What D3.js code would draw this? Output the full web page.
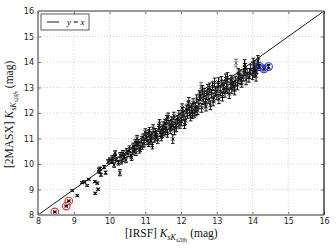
<!DOCTYPE html>
<html>
<head>
<meta charset="utf-8">
<script src="https://cdn.jsdelivr.net/npm/d3@7"></script>
<style>
  body { margin: 0; background: #fff; }
  svg { display: block; }
</style>
</head>
<body>
<svg width="336" height="252"></svg>
<script>
// [IRSF x, 2MASX y, y error]
var points = [
  [8.96, 8.96, 0.03], [9.10, 8.76, 0.03], [9.23, 9.27, 0.03], [9.29, 9.29, 0.03], [9.38, 9.15, 0.03],
  [9.42, 9.40, 0.03], [9.30, 9.30, 0.03], [9.59, 9.31, 0.04], [9.66, 9.25, 0.04], [9.60, 8.85, 0.04],
  [9.68, 9.01, 0.04], [9.70, 9.78, 0.06], [9.74, 9.82, 0.06], [9.76, 9.58, 0.06], [9.72, 9.70, 0.06],
  [9.89, 9.66, 0.06], [9.85, 9.88, 0.06], [9.96, 10.09, 0.08], [10.01, 10.16, 0.08], [10.07, 10.10, 0.08],
  [10.08, 10.24, 0.09], [10.16, 10.43, 0.09], [10.13, 9.96, 0.09], [10.15, 10.30, 0.09], [10.20, 10.18, 0.09],
  [10.25, 10.05, 0.09], [10.29, 9.66, 0.12], [10.30, 10.35, 0.10], [10.38, 10.20, 0.10], [10.38, 10.43, 0.10],
  [10.42, 10.30, 0.10], [10.46, 10.15, 0.10], [10.52, 10.40, 0.11], [10.56, 10.60, 0.11], [10.60, 10.35, 0.11],
  [10.66, 10.50, 0.12], [10.66, 10.70, 0.12], [10.70, 10.58, 0.12], [10.74, 10.45, 0.12], [10.77, 10.72, 0.12],
  [10.77, 11.00, 0.12], [10.82, 10.85, 0.12], [10.86, 10.62, 0.12], [10.90, 10.95, 0.12], [10.94, 11.05, 0.13],
  [10.97, 10.80, 0.13], [11.02, 11.10, 0.13], [11.05, 10.90, 0.13], [11.08, 11.20, 0.13], [11.10, 10.82, 0.13],
  [11.14, 11.00, 0.13], [11.18, 11.12, 0.13], [11.20, 10.72, 0.13], [11.22, 11.40, 0.14], [11.25, 11.00, 0.14],
  [11.28, 11.25, 0.14], [11.32, 11.15, 0.14], [11.35, 10.95, 0.14], [11.38, 11.42, 0.14], [11.42, 11.22, 0.14],
  [11.45, 11.05, 0.14], [11.48, 11.35, 0.14], [11.50, 11.50, 0.15], [11.52, 11.25, 0.15], [11.55, 11.60, 0.15],
  [11.58, 11.40, 0.15], [11.62, 11.20, 0.15], [11.64, 11.85, 0.15], [11.67, 11.55, 0.15], [11.70, 11.35, 0.15],
  [11.77, 10.98, 0.17], [11.74, 11.70, 0.15], [11.78, 11.50, 0.15], [11.80, 11.88, 0.15], [11.84, 11.60, 0.15],
  [11.87, 11.42, 0.15], [11.90, 11.75, 0.15], [11.94, 11.95, 0.15], [11.97, 11.55, 0.15], [12.00, 11.80, 0.16],
  [12.02, 11.66, 0.16], [12.05, 12.05, 0.16], [12.08, 11.90, 0.16], [12.12, 11.70, 0.16], [12.15, 12.15, 0.16],
  [12.18, 11.95, 0.16], [12.20, 12.30, 0.16], [12.24, 12.05, 0.16], [12.27, 11.85, 0.16], [12.30, 12.20, 0.16],
  [12.34, 12.40, 0.16], [12.37, 12.00, 0.16], [12.40, 12.25, 0.16], [12.44, 12.55, 0.16], [12.47, 12.10, 0.16],
  [12.50, 12.35, 0.17], [12.54, 12.65, 0.17], [12.56, 13.03, 0.17], [12.58, 12.20, 0.17], [12.62, 12.50, 0.17],
  [12.65, 12.80, 0.17], [12.68, 12.40, 0.17], [12.72, 12.70, 0.17], [12.75, 12.95, 0.17], [12.78, 12.55, 0.17],
  [12.82, 12.30, 0.17], [12.85, 12.75, 0.17], [12.88, 13.05, 0.17], [12.92, 12.60, 0.17], [12.94, 13.20, 0.17],
  [12.96, 12.85, 0.17], [13.00, 12.70, 0.18], [13.03, 13.00, 0.18], [13.06, 12.55, 0.18], [13.10, 12.85, 0.18],
  [13.13, 13.25, 0.18], [13.16, 12.65, 0.18], [13.20, 13.10, 0.18], [13.23, 12.80, 0.18], [13.27, 13.00, 0.18],
  [13.30, 13.40, 0.18], [13.31, 12.95, 0.18], [13.35, 12.75, 0.18], [13.38, 13.15, 0.18], [13.42, 12.95, 0.18],
  [13.45, 13.20, 0.18], [13.48, 13.05, 0.18], [13.52, 13.25, 0.19], [13.54, 13.96, 0.15], [13.58, 13.10, 0.19],
  [13.62, 13.35, 0.19], [13.65, 13.50, 0.19], [13.70, 13.20, 0.19], [13.74, 13.45, 0.19], [13.78, 13.65, 0.19],
  [13.78, 13.90, 0.19], [13.82, 13.30, 0.19], [13.85, 13.55, 0.19], [13.90, 13.40, 0.19], [13.95, 13.70, 0.19],
  [14.00, 13.50, 0.19], [14.04, 13.60, 0.20], [14.06, 13.85, 0.20], [14.10, 13.45, 0.20], [14.12, 13.75, 0.20],
  [14.15, 14.05, 0.20], [14.17, 13.95, 0.20],
  // extra points filling the dense band
  [10.33, 10.10, 0.10], [10.48, 10.50, 0.11], [10.62, 10.25, 0.11], [10.72, 10.85, 0.12], [10.84, 10.55, 0.12],
  [10.92, 10.70, 0.12], [11.00, 11.25, 0.13], [11.12, 11.30, 0.13], [11.16, 10.90, 0.13], [11.30, 11.05, 0.14],
  [11.40, 11.60, 0.14], [11.47, 11.18, 0.14], [11.57, 11.30, 0.15], [11.60, 11.75, 0.15], [11.72, 11.45, 0.15],
  [11.82, 11.30, 0.15], [11.92, 11.60, 0.15], [12.03, 12.20, 0.16], [12.10, 11.55, 0.16], [12.22, 12.45, 0.16],
  [12.32, 11.95, 0.16], [12.42, 12.05, 0.16], [12.52, 12.70, 0.17], [12.60, 12.90, 0.17], [12.70, 12.25, 0.17],
  [12.80, 13.00, 0.17], [12.90, 12.45, 0.17], [13.05, 13.20, 0.18], [13.18, 12.95, 0.18], [13.25, 13.35, 0.18],
  [13.40, 13.30, 0.18], [13.50, 12.90, 0.19], [13.60, 13.55, 0.19], [13.68, 13.30, 0.19], [13.80, 13.75, 0.19],
  [13.92, 13.55, 0.19], [14.02, 13.95, 0.20], [14.08, 13.65, 0.20]
];

var redPoints = [[8.47, 8.12, 0.03], [8.79, 8.35, 0.03], [8.86, 8.55, 0.03]];
var bluePoints = [[14.20, 13.82, 0.08], [14.32, 13.73, 0.08], [14.45, 13.82, 0.08]];

var ticks = [8, 9, 10, 11, 12, 13, 14, 15, 16];

var svg = d3.select("svg"),
    margin = {top: 11, right: 12, bottom: 37, left: 38},
    width = +svg.attr("width") - margin.left - margin.right,
    height = +svg.attr("height") - margin.top - margin.bottom;

var x = d3.scaleLinear().domain([8, 16]).range([0, width]);
var y = d3.scaleLinear().domain([8, 16]).range([height, 0]);

var g = svg.append("g").attr("transform", "translate(" + margin.left + "," + margin.top + ")");

// dotted grid
g.append("g").selectAll("line").data(ticks.slice(1, -1)).enter().append("line")
    .attr("x1", d => x(d)).attr("x2", d => x(d))
    .attr("y1", 0).attr("y2", height)
    .attr("stroke", "#bbb").attr("stroke-width", 0.6).attr("stroke-dasharray", "1,2");
g.append("g").selectAll("line").data(ticks.slice(1, -1)).enter().append("line")
    .attr("y1", d => y(d)).attr("y2", d => y(d))
    .attr("x1", 0).attr("x2", width)
    .attr("stroke", "#bbb").attr("stroke-width", 0.6).attr("stroke-dasharray", "1,2");

// y = x line
g.append("line")
    .attr("x1", x(8)).attr("y1", y(8))
    .attr("x2", x(16)).attr("y2", y(16))
    .attr("stroke", "#000").attr("stroke-width", 0.9);

var all = points.concat(redPoints, bluePoints);

function drawErr(sel) {
  var c = 1.8;
  sel.append("line")
      .attr("x1", d => x(d[0])).attr("x2", d => x(d[0]))
      .attr("y1", d => y(d[1] - d[2])).attr("y2", d => y(d[1] + d[2]));
  sel.append("line")
      .attr("x1", d => x(d[0]) - c).attr("x2", d => x(d[0]) + c)
      .attr("y1", d => y(d[1] - d[2])).attr("y2", d => y(d[1] - d[2]));
  sel.append("line")
      .attr("x1", d => x(d[0]) - c).attr("x2", d => x(d[0]) + c)
      .attr("y1", d => y(d[1] + d[2])).attr("y2", d => y(d[1] + d[2]));
  // x marker
  sel.append("path")
      .attr("d", d => {
        var cx = x(d[0]), cy = y(d[1]), s = 1.7;
        return "M" + (cx - s) + "," + (cy - s) + "L" + (cx + s) + "," + (cy + s) +
               "M" + (cx - s) + "," + (cy + s) + "L" + (cx + s) + "," + (cy - s);
      });
}

var marks = g.append("g").attr("stroke", "#111").attr("stroke-width", 1).attr("fill", "none")
  .selectAll("g").data(all).enter().append("g")
    .attr("stroke", d => d[1] - d[0] > 0.35 ? "#666" : null);
drawErr(marks);

g.append("g").selectAll("circle").data(redPoints).enter().append("circle")
    .attr("cx", d => x(d[0])).attr("cy", d => y(d[1])).attr("r", 3.8)
    .attr("fill", "none").attr("stroke", "#e03030").attr("stroke-width", 1.1);
g.append("g").selectAll("circle").data(bluePoints).enter().append("circle")
    .attr("cx", d => x(d[0])).attr("cy", d => y(d[1])).attr("r", 3.8)
    .attr("fill", "none").attr("stroke", "#2030e0").attr("stroke-width", 1.1);

// axes
g.append("g").attr("transform", "translate(0," + height + ")")
    .call(d3.axisBottom(x).tickValues(ticks).tickFormat(d3.format("d")).tickSize(-3).tickPadding(3));
g.append("g")
    .call(d3.axisTop(x).tickValues(ticks).tickFormat("").tickSize(-3));
g.append("g")
    .call(d3.axisLeft(y).tickValues(ticks).tickFormat(d3.format("d")).tickSize(-3).tickPadding(4));
g.append("g").attr("transform", "translate(" + width + ",0)")
    .call(d3.axisRight(y).tickValues(ticks).tickFormat("").tickSize(-3));

g.selectAll(".domain").remove();
g.selectAll(".tick line").attr("stroke", "#333").attr("stroke-width", 0.7);
g.selectAll(".tick text").attr("font-family", "DejaVu Sans").attr("font-size", 8).attr("fill", "#222");

// spines
g.append("line").attr("x1", 0).attr("x2", width).attr("y1", 0).attr("y2", 0)
    .attr("stroke", "#999").attr("stroke-width", 2);
g.append("line").attr("x1", 0).attr("x2", width).attr("y1", height).attr("y2", height)
    .attr("stroke", "#999").attr("stroke-width", 2);
g.append("line").attr("x1", 0).attr("x2", 0).attr("y1", 0).attr("y2", height)
    .attr("stroke", "#555").attr("stroke-width", 1.2);
g.append("line").attr("x1", width).attr("x2", width).attr("y1", 0).attr("y2", height)
    .attr("stroke", "#111").attr("stroke-width", 1.2);

// legend
var leg = g.append("g").attr("transform", "translate(3,3)");
leg.append("rect").attr("width", 48).attr("height", 16)
    .attr("fill", "#fff").attr("stroke", "#333").attr("stroke-width", 0.8);
leg.append("line").attr("x1", 6).attr("x2", 18).attr("y1", 8).attr("y2", 8)
    .attr("stroke", "#000").attr("stroke-width", 0.9);
var lt = leg.append("text").attr("x", 26).attr("y", 11)
    .attr("font-family", "Liberation Serif").attr("font-size", 9).attr("font-style", "italic");
lt.append("tspan").text("y");
lt.append("tspan").attr("font-style", "normal").text(" = ");
lt.append("tspan").text("x");

// axis labels with nested subscripts
function label(t, prefix) {
  t.append("tspan").text(prefix + " ");
  t.append("tspan").attr("font-style", "italic").text("K");
  t.append("tspan").attr("font-style", "italic").attr("font-size", 8).attr("dy", 3).text("sK");
  t.append("tspan").attr("font-style", "italic").attr("font-size", 5.5).attr("dy", 2).text("s20fs");
  t.append("tspan").attr("dy", -5).text(" (mag)");
}

var xl = svg.append("text")
    .attr("x", 125).attr("y", 237)
    .attr("font-family", "Liberation Serif").attr("font-size", 11.5).attr("fill", "#111");
label(xl, "[IRSF]");

var yl = svg.append("text")
    .attr("transform", "translate(13,168) rotate(-90)")
    .attr("font-family", "Liberation Serif").attr("font-size", 11.5).attr("fill", "#111");
label(yl, "[2MASX]");
</script>
</body>
</html>
